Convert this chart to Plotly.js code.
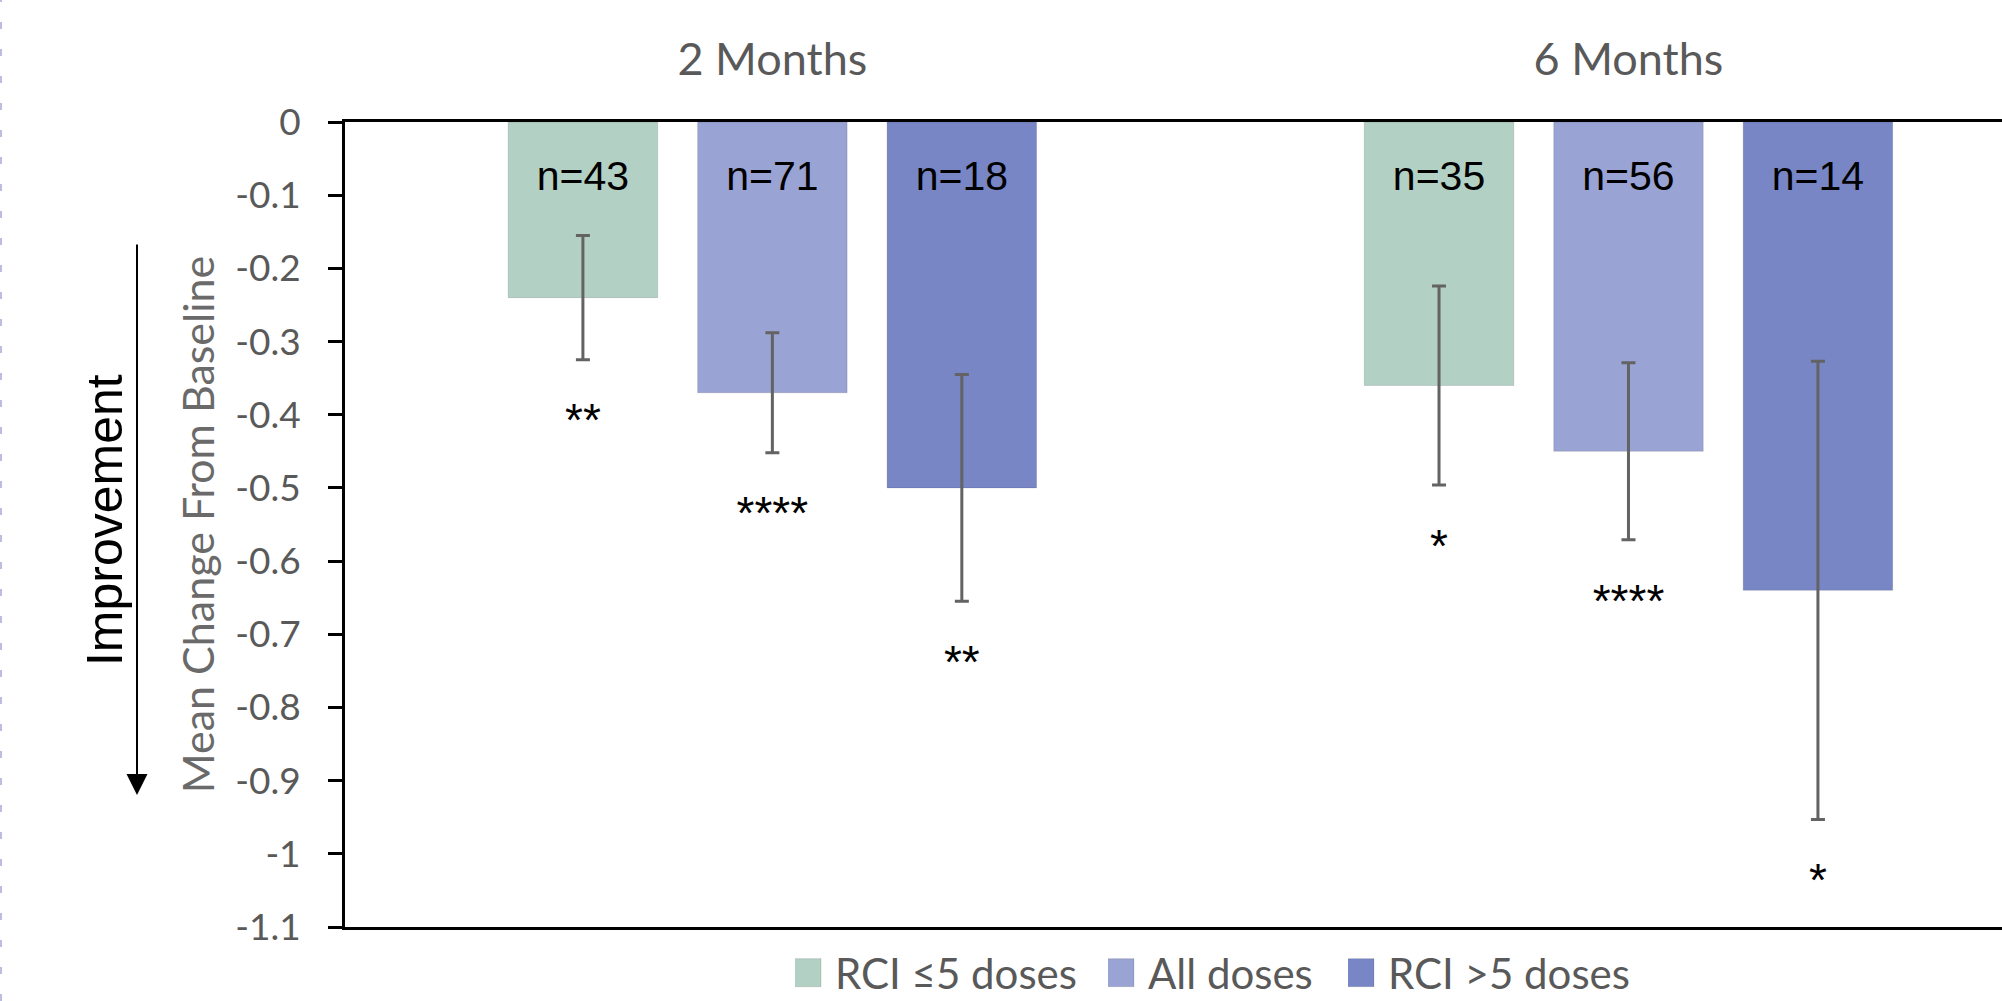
<!DOCTYPE html>
<html>
<head>
<meta charset="utf-8">
<script src="https://cdn.plot.ly/plotly-3.0.1.min.js"></script>
<style>
  html, body { margin: 0; padding: 0; background: #ffffff; overflow: hidden; }
  #chart { width: 2002px; height: 1001px; }
</style>
</head>
<body>
<div id="chart"></div>
<script>
// ---------------- data ----------------
const categories = ['2 Months', '6 Months'];
const seriesNames = ['RCI \u22645 doses', 'All doses', 'RCI >5 doses'];

const rciLe5Mean = [-0.24, -0.36];
const allDosesMean = [-0.37, -0.45];
const rciGt5Mean = [-0.50, -0.64];

const rciLe5Err = [0.085, 0.136];
const allDosesErr = [0.082, 0.121];
const rciGt5Err = [0.155, 0.313];

const rciLe5N = [43, 35];
const allDosesN = [71, 56];
const rciGt5N = [18, 14];

const rciLe5Sig = ['**', '*'];
const allDosesSig = ['****', '****'];
const rciGt5Sig = ['**', '*'];

const yTickVals = [0, -0.1, -0.2, -0.3, -0.4, -0.5, -0.6, -0.7, -0.8, -0.9, -1, -1.1];
const yTickText = ['0', '-0.1', '-0.2', '-0.3', '-0.4', '-0.5', '-0.6', '-0.7', '-0.8', '-0.9', '-1', '-1.1'];

// ---------------- styling ----------------
const colors = ['#B2D0C4', '#9AA4D4', '#7886C6'];
const seriesOffsets = [-0.2213, 0, 0.2213];
const BAR_WIDTH = 0.1746;
const N_LABEL_Y = -0.079;
const STAR_GAP = 0.089;
const GRAY = '#595959';
const legendIds = ['legend', 'legend2', 'legend3'];
const legendX = [0.27158, 0.46047, 0.60531];

const means = [rciLe5Mean, allDosesMean, rciGt5Mean];
const errs = [rciLe5Err, allDosesErr, rciGt5Err];
const ns = [rciLe5N, allDosesN, rciGt5N];
const sigs = [rciLe5Sig, allDosesSig, rciGt5Sig];

const traces = [];
seriesNames.forEach((name, s) => {
  const xs = categories.map((c, i) => i + seriesOffsets[s]);
  traces.push({
    type: 'bar',
    name: name,
    legend: legendIds[s],
    x: xs,
    y: means[s],
    width: categories.map(() => BAR_WIDTH),
    marker: { color: colors[s], line: { width: 1, color: 'rgba(0,0,0,0.12)' } },
    error_y: { type: 'data', array: errs[s], visible: true, color: '#636363', thickness: 3, width: 7 },
    hoverinfo: 'skip'
  });
});
seriesNames.forEach((name, s) => {
  const xs = categories.map((c, i) => i + seriesOffsets[s]);
  traces.push({
    type: 'scatter', mode: 'text', showlegend: false, hoverinfo: 'skip', cliponaxis: false,
    x: xs,
    y: categories.map(() => N_LABEL_Y),
    text: ns[s].map(n => 'n=' + n),
    textposition: 'middle center',
    textfont: { family: 'Liberation Sans, Arial, sans-serif', size: 41, color: '#000000' }
  });
  traces.push({
    type: 'scatter', mode: 'text', showlegend: false, hoverinfo: 'skip', cliponaxis: false,
    x: xs,
    y: means[s].map((v, i) => v - errs[s][i] - STAR_GAP),
    text: sigs[s],
    textposition: 'middle center',
    textfont: { family: 'Liberation Sans, Arial, sans-serif', size: 46, color: '#000000' }
  });
});

function legendBox(x) {
  return {
    orientation: 'h',
    x: x, xanchor: 'left',
    y: -0.057, yanchor: 'middle',
    font: { family: 'Lato, sans-serif', size: 42, color: GRAY },
    bgcolor: 'rgba(0,0,0,0)',
    borderwidth: 0
  };
}

const layout = {
  width: 2002,
  height: 1001,
  margin: { l: 345, r: 0, t: 122, b: 74, pad: 0, autoexpand: false },
  paper_bgcolor: '#ffffff',
  plot_bgcolor: '#ffffff',
  barmode: 'overlay',
  showlegend: true,
  legend: legendBox(legendX[0]),
  legend2: legendBox(legendX[1]),
  legend3: legendBox(legendX[2]),
  xaxis: {
    range: [-0.4992, 1.4363],
    side: 'top',
    showline: true, mirror: true, linecolor: '#000000', linewidth: 3,
    tickvals: [0, 1],
    ticktext: categories,
    ticks: '',
    showgrid: false, zeroline: false,
    tickfont: { family: 'Lato, sans-serif', size: 45, color: GRAY },
    ticklabelstandoff: 26,
    fixedrange: true
  },
  yaxis: {
    range: [-1.1, 0],
    tickvals: yTickVals,
    ticktext: yTickText,
    ticks: 'outside', ticklen: 14, tickwidth: 3, tickcolor: '#000000',
    showline: true, linecolor: '#000000', linewidth: 3,
    showgrid: false, zeroline: false,
    tickfont: { family: 'Lato, sans-serif', size: 37, color: GRAY },
    ticklabelstandoff: 20,
    title: { text: 'Mean Change From Baseline', font: { family: 'Lato, sans-serif', size: 43, color: '#6a6a6a' }, standoff: 8 },
    fixedrange: true
  },
  annotations: [
    {
      xref: 'paper', yref: 'paper', x: -0.1448, y: 0.5056,
      text: 'Improvement', showarrow: false, textangle: -90,
      xanchor: 'center', yanchor: 'middle',
      font: { family: 'Liberation Sans, Arial, sans-serif', size: 50, color: '#000000' }
    },
    {
      xref: 'paper', yref: 'paper', x: -0.12553, y: 0.16398,
      text: '', showarrow: true, ax: 0, ay: -552,
      arrowhead: 2, arrowwidth: 2, arrowsize: 2.1, arrowcolor: '#000000', standoff: 0
    }
  ],
  shapes: [
    {
      type: 'line', xref: 'paper', yref: 'paper',
      x0: -0.2076, x1: -0.2076, y0: -0.0919, y1: 1.1516,
      line: { color: '#BDBDE3', width: 2, dash: '7px,20px' }
    }
  ]
};

Plotly.newPlot('chart', traces, layout, { staticPlot: true, displayModeBar: false }).then(gd => {
  gd.querySelectorAll('g.legendpoints path').forEach(p => {
    p.setAttribute('d', 'M6,14H-22V-14H6Z');
  });
});
</script>
</body>
</html>
